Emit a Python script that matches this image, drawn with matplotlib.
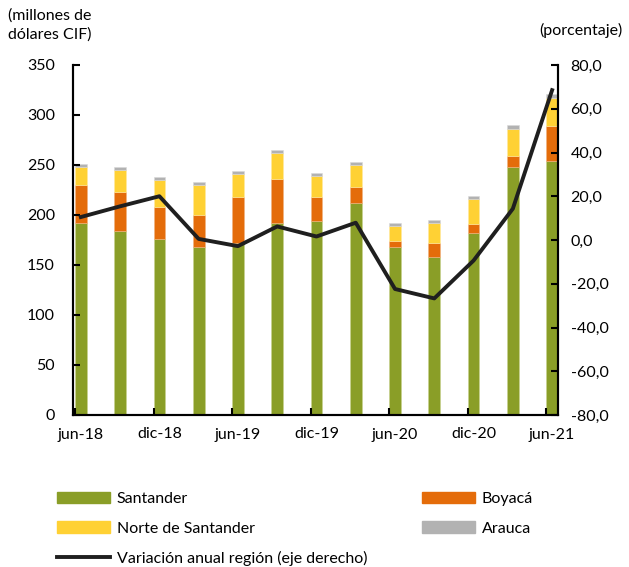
import matplotlib.pyplot as plt
import numpy as np
from matplotlib.patches import Patch
from matplotlib.lines import Line2D

plt.rcParams['font.family'] = ['Lato', 'DejaVu Sans']

periodos = ["jun-18", "sep-18", "dic-18", "mar-19", "jun-19", "sep-19", "dic-19",
            "mar-20", "jun-20", "sep-20", "dic-20", "mar-21", "jun-21"]
santander = [192, 184, 176, 168, 172, 192, 194, 212, 168, 158, 182, 248, 254]
boyaca = [38, 39, 32, 32, 46, 44, 24, 16, 6, 14, 9, 11, 35]
norte_santander = [18, 22, 27, 30, 23, 26, 21, 22, 15, 20, 25, 27, 28]
arauca = [3, 3, 3, 3, 3, 3, 3, 3, 3, 3, 3, 4, 4]
variacion = [10.5, 15.4, 20.0, 0.5, -2.8, 6.2, 1.6, 7.9, -22.4, -26.7, -9.4, 14.3, 68.5]

c_san = "#8A9E27"
c_boy = "#E46C0A"
c_nor = "#FFD134"
c_ara = "#B2B2B2"
c_lin = "#1F1F1F"
fs = 11.5

fig = plt.figure(figsize=(6.29, 5.67), dpi=100)
ax = fig.add_axes([73/629, 1 - 415/567, 485/629, 350/567])

x = np.arange(len(periodos))
w = 0.3
s = np.array(santander)
b = np.array(boyaca)
n = np.array(norte_santander)
a = np.array(arauca)
ax.bar(x, s, w, color=c_san, edgecolor="#C9D38F", linewidth=0.4)
ax.bar(x, b, w, bottom=s, color=c_boy, edgecolor="#F0B27F", linewidth=0.4)
ax.bar(x, n, w, bottom=s + b, color=c_nor, edgecolor="#FFE9A0", linewidth=0.4)
ax.bar(x, a, w, bottom=s + b + n, color=c_ara, edgecolor="#D8D8D8", linewidth=0.4)

ax.set_xlim(-0.2, 12.15)
ax.set_ylim(0, 350)
ax.set_yticks(np.arange(0, 351, 50))
ax.tick_params(axis="y", direction="in", length=5, width=1.5, pad=13, labelsize=fs)

ax.set_xticks(x[::2])
ax.set_xticklabels(periodos[::2])
ax.tick_params(axis="x", length=0, pad=9, labelsize=fs)
ax.set_xticks(x[::2] - 0.15, minor=True)
ax.tick_params(axis="x", which="minor", direction="in", length=5, width=1.5)

for sp in ["left", "bottom", "right"]:
    ax.spines[sp].set_linewidth(1.5)
ax.spines["top"].set_visible(False)

ax2 = ax.twinx()
ax2.plot(x, variacion, color=c_lin, linewidth=2.8)
ax2.set_ylim(-80, 80)
ax2.set_yticks(np.arange(-80, 81, 20))
ax2.set_yticklabels([f"{v:.1f}".replace(".", ",") for v in np.arange(-80, 81, 20)],
                    ha="left")
ax2.tick_params(axis="y", direction="in", length=5, width=1.5, pad=9, labelsize=fs)
for sp in ["left", "bottom", "right"]:
    ax2.spines[sp].set_linewidth(1.5)
ax2.spines["top"].set_visible(False)

fig.text(8/629, 1 - 8/567, "(millones de\ndólares CIF)", fontsize=fs, va="top",
         ha="left", linespacing=1.45)
fig.text(622/629, 1 - 30/567, "(porcentaje)", fontsize=fs, va="center", ha="right")

h1 = [Patch(color=c_san), Patch(color=c_nor), Line2D([], [], color=c_lin, linewidth=2.8)]
l1 = ["Santander", "Norte de Santander", "Variación anual región (eje derecho)"]
h2 = [Patch(color=c_boy), Patch(color=c_ara)]
l2 = ["Boyacá", "Arauca"]
kw = dict(loc="upper left", frameon=False, fontsize=fs, borderpad=0, borderaxespad=0,
          handlelength=3.3, handletextpad=0.45, labelspacing=0.95)
fig.legend(h1, l1, bbox_to_anchor=(57/629, 1 - 492/567), **kw)
fig.legend(h2, l2, bbox_to_anchor=(422/629, 1 - 492/567), **kw)

plt.savefig("out.png", dpi=100)
